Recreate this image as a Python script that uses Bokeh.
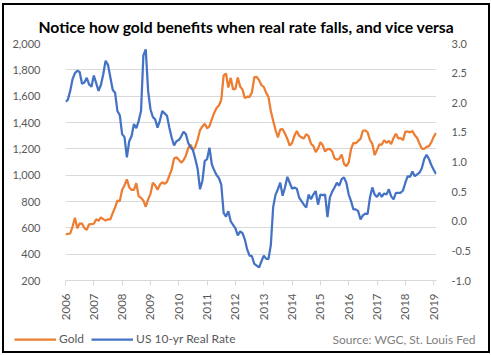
import math
from bokeh.plotting import figure
from bokeh.layouts import column
from bokeh.models import (Range1d, LinearAxis, FixedTicker, NumeralTickFormatter,
                          Legend, LegendItem, Label, ColumnDataSource)
from bokeh.embed import file_html
from bokeh.resources import INLINE

# ---- data ----
years = list(range(2006, 2020))
year_labels = [str(y) for y in years]
left_ticks = [200, 400, 600, 800, 1000, 1200, 1400, 1600, 1800, 2000]
right_ticks = [-1.0, -0.5, 0.0, 0.5, 1.0, 1.5, 2.0, 2.5, 3.0]

gold = [
    549, 555, 557, 610, 676, 596, 633, 632, 598, 585, 627, 629,
    631, 665, 654, 679, 666, 655, 665, 665, 712, 754, 806, 803,
    889, 922, 968, 909, 888, 889, 939, 839, 829, 806, 760, 816,
    858, 943, 924, 890, 928, 946, 934, 949, 996, 1043, 1127, 1135,
    1118, 1095, 1113, 1148, 1205, 1232, 1193, 1215, 1271, 1343, 1370, 1391,
    1356, 1372, 1424, 1473, 1510, 1529, 1572, 1756, 1772, 1665, 1739, 1652,
    1656, 1742, 1673, 1650, 1585, 1596, 1594, 1630, 1744, 1747, 1722, 1684,
    1671, 1627, 1593, 1487, 1414, 1343, 1286, 1347, 1349, 1316, 1275, 1225,
    1244, 1300, 1336, 1299, 1287, 1279, 1311, 1296, 1239, 1222, 1176, 1201,
    1251, 1227, 1179, 1198, 1199, 1181, 1128, 1117, 1125, 1157, 1086, 1068,
    1097, 1199, 1246, 1242, 1260, 1276, 1337, 1341, 1326, 1267, 1238, 1152,
    1192, 1234, 1231, 1266, 1246, 1260, 1236, 1283, 1315, 1280, 1282, 1265,
    1331, 1331, 1325, 1335, 1303, 1282, 1238, 1202, 1199, 1215, 1221, 1250,
    1291, 1320,
]

real_rate = [
    2.02, 2.05, 2.20, 2.40, 2.50, 2.54, 2.52, 2.32, 2.34, 2.42, 2.31, 2.27,
    2.46, 2.33, 2.20, 2.30, 2.48, 2.71, 2.64, 2.43, 2.22, 2.17, 1.86, 1.79,
    1.47, 1.42, 1.08, 1.35, 1.44, 1.64, 1.57, 1.69, 1.86, 2.80, 2.90, 2.20,
    1.89, 1.76, 1.72, 1.58, 1.70, 1.86, 1.82, 1.78, 1.58, 1.41, 1.28, 1.35,
    1.37, 1.43, 1.51, 1.47, 1.32, 1.25, 1.20, 1.05, 0.88, 0.54, 0.68, 1.02,
    1.05, 1.24, 0.96, 0.86, 0.78, 0.73, 0.62, 0.14, 0.08, 0.17, 0.00, -0.06,
    -0.12, -0.24, -0.17, -0.20, -0.31, -0.48, -0.58, -0.59, -0.72, -0.75, -0.78, -0.68,
    -0.58, -0.63, -0.64, -0.40, 0.24, 0.45, 0.54, 0.65, 0.43, 0.57, 0.75, 0.65,
    0.55, 0.57, 0.55, 0.40, 0.34, 0.28, 0.23, 0.45, 0.37, 0.45, 0.51, 0.28,
    0.45, 0.44, 0.45, 0.07, 0.40, 0.50, 0.57, 0.65, 0.60, 0.71, 0.74, 0.65,
    0.45, 0.34, 0.20, 0.20, 0.17, 0.03, 0.10, 0.13, 0.12, 0.40, 0.57, 0.45,
    0.41, 0.48, 0.41, 0.47, 0.45, 0.54, 0.42, 0.37, 0.48, 0.48, 0.48, 0.52,
    0.65, 0.76, 0.75, 0.84, 0.76, 0.79, 0.82, 0.90, 1.05, 1.12, 1.05, 0.95,
    0.87, 0.80,
]

months = [2006 + i / 12 for i in range(len(gold))]

FONT = "Lato"
GRAY = "#595959"
ORANGE = "#ED7D31"
BLUE = "#4472C4"

p = figure(width=484, height=322, output_backend="svg", toolbar_location=None,
           x_range=Range1d(2006.0, 2019.1), y_range=Range1d(200, 2000),
           min_border_left=61, min_border_right=52, min_border_top=38,
           min_border_bottom=47, background_fill_color="white",
           border_fill_color="white", frame_align=False)
p.outline_line_color = None
p.title.text = "Notice how gold benefits when real rate falls, and vice versa"
p.title.align = "left"
p.title.offset = -27
p.title.standoff = 15
p.title.text_font = FONT
p.title.text_font_style = "bold"
p.title.text_font_size = "15.7px"
p.title.text_color = "black"

p.extra_y_ranges = {"rr": Range1d(-1.0, 3.0)}

# x axis
xa = p.xaxis[0]
xa.ticker = FixedTicker(ticks=years)
xa.major_label_overrides = {y: s for y, s in zip(years, year_labels)}
xa.major_label_orientation = math.pi / 2
xa.axis_line_color = "#d9d9d9"
xa.major_tick_line_color = "#d9d9d9"
xa.major_tick_out = 5
xa.major_tick_in = 0
xa.minor_tick_line_color = None
xa.major_label_standoff = 8
xa.major_label_text_font = FONT
xa.major_label_text_font_size = "11.5px"
xa.major_label_text_color = GRAY

# left axis
ya = p.yaxis[0]
ya.ticker = FixedTicker(ticks=left_ticks)
ya.formatter = NumeralTickFormatter(format="0,0")
ya.axis_line_color = None
ya.major_tick_line_color = None
ya.minor_tick_line_color = None
ya.major_label_standoff = 19
ya.major_label_text_font = FONT
ya.major_label_text_font_size = "11px"
ya.major_label_text_color = GRAY

# right axis
ra = LinearAxis(y_range_name="rr", ticker=FixedTicker(ticks=right_ticks),
                formatter=NumeralTickFormatter(format="0.0"))
ra.axis_line_color = None
ra.major_tick_line_color = None
ra.minor_tick_line_color = None
ra.major_label_standoff = 9
ra.major_label_text_font = FONT
ra.major_label_text_font_size = "11px"
ra.major_label_text_color = GRAY
p.add_layout(ra, "right")

p.xgrid.visible = False
p.ygrid.ticker = FixedTicker(ticks=left_ticks[1:])
p.ygrid.grid_line_color = "#d9d9d9"
p.ygrid.grid_line_width = 1

src = ColumnDataSource(dict(x=months, gold=gold, rr=real_rate))
p.line("x", "gold", source=src, line_color=ORANGE, line_width=2.25)
p.line("x", "rr", source=src, y_range_name="rr", line_color=BLUE, line_width=2.25)

# ---- legend / source row ----
q = figure(width=484, height=24, output_backend="svg", toolbar_location=None,
           x_range=Range1d(0, 484), y_range=Range1d(0, 24),
           x_axis_type=None, y_axis_type=None,
           min_border_left=0, min_border_right=0, min_border_top=0,
           min_border_bottom=0, background_fill_color="white",
           border_fill_color="white", frame_align=False)
q.outline_line_color = None
q.grid.visible = False
lg_gold = q.line([-50, -40], [-50, -40], line_color=ORANGE, line_width=2.25)
lg_rr = q.line([-50, -40], [-50, -40], line_color=BLUE, line_width=2.25)
legend = Legend(items=[LegendItem(label="Gold", renderers=[lg_gold]),
                       LegendItem(label="US 10-yr Real Rate", renderers=[lg_rr])],
                location=(10, 5), orientation="horizontal",
                glyph_width=42, glyph_height=14, label_height=14,
                label_standoff=3, spacing=7, padding=0, margin=0,
                border_line_color=None, background_fill_alpha=0,
                label_text_font=FONT, label_text_font_size="12px",
                label_text_color=GRAY)
q.add_layout(legend, "center")
q.add_layout(Label(x=328, y=12, text="Source: WGC, St. Louis Fed",
                   text_align="left", text_baseline="middle",
                   text_font=FONT, text_font_size="12px", text_color="#7f7f7f"))

layout = column(p, q, spacing=0,
                styles={"margin": "3px 0 0 2px", "border": "2px solid black"})

open("out.html", "w").write(file_html(layout, INLINE))
